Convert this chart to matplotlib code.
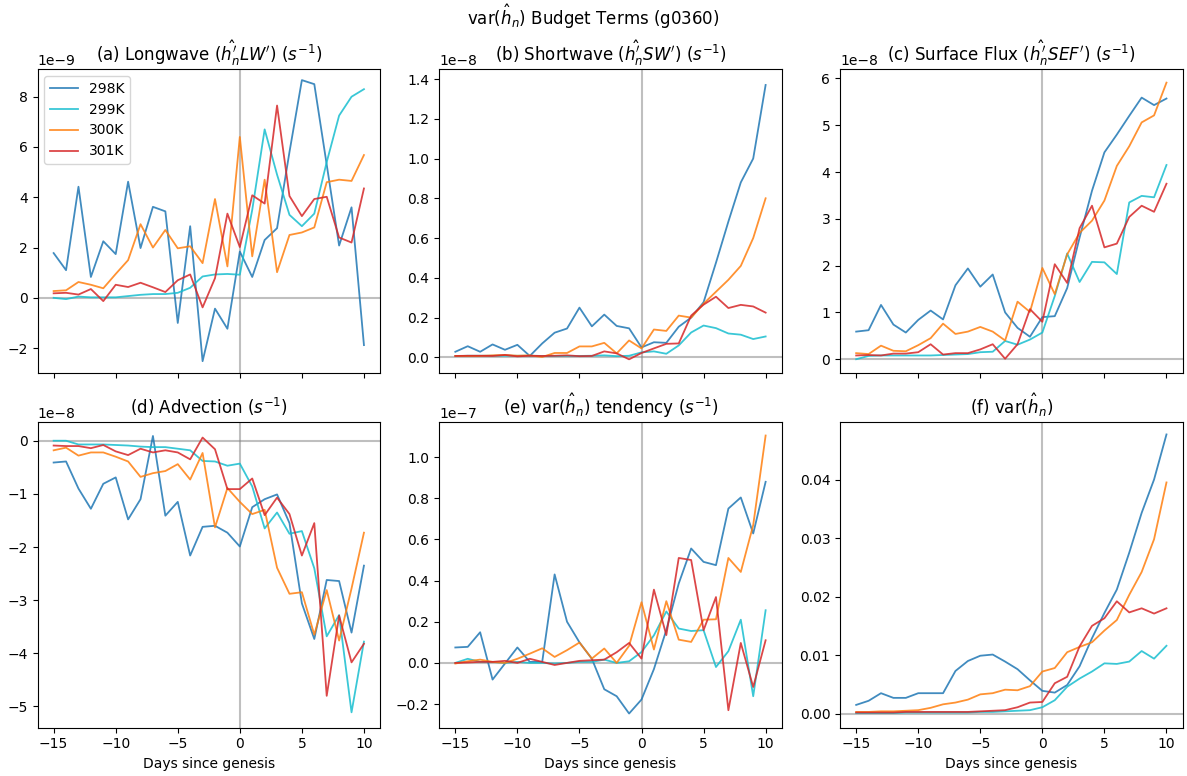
import numpy as np
import matplotlib
matplotlib.use("Agg")
import matplotlib.pyplot as plt

days = list(range(-15, 11))
labels = ["298K", "299K", "300K", "301K"]
colors = ["tab:blue", "tab:cyan", "tab:orange", "tab:red"]

# (a) Longwave, units 1e-9
lw_298 = [1.78, 1.1, 4.42, 0.83, 2.25, 1.74, 4.62, 1.98, 3.62, 3.44, -1.0, 2.85, -2.52, -0.43, -1.23, 1.84, 0.83, 2.3, 2.77, 5.8, 8.66, 8.5, 5.3, 2.08, 3.6, -1.88]
lw_299 = [0.0, -0.05, 0.05, 0.02, 0.02, 0.02, 0.07, 0.12, 0.15, 0.15, 0.2, 0.4, 0.85, 0.93, 0.95, 0.92, 3.5, 6.7, 4.9, 3.3, 2.85, 3.35, 5.4, 7.25, 8.0, 8.3]
lw_300 = [0.27, 0.3, 0.63, 0.52, 0.38, 0.95, 1.5, 2.93, 2.0, 2.7, 1.97, 2.05, 1.38, 3.93, 1.25, 6.4, 1.65, 4.7, 1.02, 2.5, 2.6, 2.8, 4.6, 4.7, 4.65, 5.68]
lw_301 = [0.18, 0.2, 0.13, 0.35, -0.13, 0.52, 0.43, 0.6, 0.42, 0.23, 0.7, 0.93, -0.38, 0.78, 3.35, 2.02, 4.08, 3.75, 7.65, 4.05, 3.25, 3.93, 4.02, 2.4, 2.2, 4.35]

# (b) Shortwave, units 1e-8
sw_298 = [0.028, 0.056, 0.028, 0.065, 0.038, 0.063, 0.007, 0.07, 0.124, 0.145, 0.25, 0.156, 0.215, 0.158, 0.146, 0.05, 0.076, 0.073, 0.154, 0.2, 0.277, 0.476, 0.683, 0.88, 1.0, 1.37]
sw_299 = [0.006, 0.008, 0.008, 0.008, 0.008, 0.008, 0.008, 0.007, 0.007, 0.007, 0.007, 0.008, 0.01, 0.006, 0.008, 0.025, 0.03, 0.018, 0.06, 0.125, 0.16, 0.147, 0.12, 0.114, 0.092, 0.105]
sw_300 = [0.007, 0.007, 0.007, 0.01, 0.012, 0.008, 0.01, 0.002, 0.022, 0.022, 0.055, 0.055, 0.073, 0.02, 0.085, 0.045, 0.14, 0.133, 0.21, 0.2, 0.27, 0.33, 0.39, 0.46, 0.6, 0.8]
sw_301 = [0.007, 0.008, 0.008, 0.007, 0.012, 0.005, 0.008, 0.007, 0.008, 0.01, 0.006, 0.007, 0.03, 0.02, -0.01, 0.022, 0.045, 0.068, 0.07, 0.21, 0.265, 0.305, 0.248, 0.264, 0.256, 0.225]

# (c) Surface flux, units 1e-8
sef_298 = [0.59, 0.62, 1.16, 0.74, 0.57, 0.84, 1.04, 0.85, 1.58, 1.94, 1.55, 1.81, 1.0, 0.67, 0.48, 0.9, 0.92, 1.52, 2.6, 3.6, 4.42, 4.8, 5.2, 5.59, 5.43, 5.57]
sef_299 = [0.0, 0.07, 0.08, 0.08, 0.08, 0.08, 0.08, 0.09, 0.1, 0.11, 0.15, 0.16, 0.39, 0.31, 0.42, 0.57, 1.35, 2.26, 1.65, 2.08, 2.07, 1.82, 3.35, 3.49, 3.46, 4.15]
sef_300 = [0.13, 0.11, 0.29, 0.18, 0.17, 0.3, 0.45, 0.76, 0.54, 0.59, 0.69, 0.59, 0.4, 1.23, 1.01, 1.95, 1.39, 2.24, 2.7, 2.96, 3.39, 4.13, 4.55, 5.06, 5.21, 5.91]
sef_301 = [0.08, 0.09, 0.08, 0.12, 0.12, 0.15, 0.32, 0.1, 0.13, 0.13, 0.21, 0.32, 0.01, 0.32, 1.07, 0.8, 2.03, 1.63, 2.8, 3.28, 2.39, 2.47, 3.04, 3.28, 3.15, 3.75]

# (d) Advection, units 1e-8
adv_298 = [-0.41, -0.39, -0.9, -1.28, -0.81, -0.69, -1.48, -1.1, 0.09, -1.41, -1.15, -2.16, -1.62, -1.6, -1.73, -1.99, -1.25, -1.1, -1.01, -1.55, -3.06, -3.73, -2.62, -2.64, -3.61, -2.35]
adv_299 = [0.0, 0.0, -0.07, -0.07, -0.07, -0.08, -0.09, -0.11, -0.12, -0.12, -0.15, -0.18, -0.38, -0.39, -0.47, -0.43, -0.86, -1.65, -1.35, -1.75, -1.7, -2.4, -3.68, -3.28, -5.11, -3.78]
adv_300 = [-0.18, -0.13, -0.28, -0.22, -0.22, -0.3, -0.39, -0.68, -0.61, -0.57, -0.44, -0.73, -0.23, -1.63, -0.89, -1.15, -1.38, -1.3, -2.39, -2.88, -2.85, -3.65, -2.81, -3.76, -2.78, -1.73]
adv_301 = [-0.09, -0.1, -0.1, -0.14, -0.08, -0.2, -0.27, -0.15, -0.22, -0.18, -0.22, -0.35, 0.06, -0.16, -0.91, -0.91, -0.71, -1.4, -1.07, -1.38, -2.16, -1.55, -4.8, -3.29, -4.17, -3.82]

# (e) var tendency, units 1e-7
tend_298 = [0.075, 0.078, 0.149, -0.081, -0.003, 0.075, 0.005, 0.005, 0.43, 0.2, 0.1, 0.02, -0.128, -0.162, -0.246, -0.178, -0.03, 0.16, 0.386, 0.556, 0.491, 0.475, 0.75, 0.804, 0.629, 0.88]
tend_299 = [0.0, 0.02, 0.005, 0.005, 0.0, 0.005, 0.0, 0.0, -0.003, 0.0, 0.005, 0.005, 0.016, 0.0, 0.008, 0.053, 0.134, 0.25, 0.167, 0.155, 0.159, -0.02, 0.057, 0.21, -0.162, 0.256]
tend_300 = [-0.003, 0.008, 0.016, 0.005, 0.0, 0.02, 0.045, 0.071, 0.029, 0.062, 0.099, 0.021, 0.07, 0.0, 0.083, 0.295, 0.065, 0.3, 0.113, 0.102, 0.21, 0.212, 0.51, 0.442, 0.67, 1.105]
tend_301 = [0.0, 0.002, 0.005, 0.005, 0.01, 0.0, 0.02, 0.005, -0.01, 0.0, 0.01, 0.013, 0.016, 0.052, 0.097, 0.021, 0.356, 0.135, 0.51, 0.5, 0.159, 0.32, -0.23, 0.097, -0.117, 0.11]

# (f) var(h_n)
var_298 = [0.0015, 0.0022, 0.0035, 0.0027, 0.0027, 0.0035, 0.0035, 0.0035, 0.0073, 0.009, 0.0099, 0.0101, 0.0089, 0.0076, 0.0057, 0.0039, 0.0036, 0.0049, 0.0081, 0.0129, 0.0172, 0.0212, 0.0275, 0.0343, 0.04, 0.0477]
var_299 = [0.0001, 0.0001, 0.0001, 0.0001, 0.0002, 0.0002, 0.0002, 0.0002, 0.0002, 0.0002, 0.0003, 0.0003, 0.0004, 0.0005, 0.0006, 0.0011, 0.0023, 0.0046, 0.006, 0.0072, 0.0086, 0.0085, 0.0089, 0.0107, 0.0094, 0.0116]
var_300 = [0.0003, 0.0003, 0.0004, 0.0004, 0.0005, 0.0006, 0.001, 0.0016, 0.0019, 0.0024, 0.0033, 0.0035, 0.0041, 0.004, 0.0047, 0.0072, 0.0078, 0.0105, 0.0114, 0.0122, 0.0142, 0.016, 0.0203, 0.0242, 0.0298, 0.0395]
var_301 = [0.0002, 0.0002, 0.0002, 0.0002, 0.0003, 0.0003, 0.0003, 0.0003, 0.0003, 0.0003, 0.0004, 0.0005, 0.0006, 0.0011, 0.0019, 0.002, 0.0052, 0.0063, 0.0115, 0.015, 0.0163, 0.0192, 0.0173, 0.018, 0.0171, 0.018]

panels = [
    (r"(a) Longwave ($\hat{h^{\prime}_n}LW^{\prime}$) ($s^{-1}$)", [lw_298, lw_299, lw_300, lw_301], 1e-9),
    (r"(b) Shortwave ($\hat{h^{\prime}_n}SW^{\prime}$) ($s^{-1}$)", [sw_298, sw_299, sw_300, sw_301], 1e-8),
    (r"(c) Surface Flux ($\hat{h^{\prime}_n}SEF^{\prime}$) ($s^{-1}$)", [sef_298, sef_299, sef_300, sef_301], 1e-8),
    (r"(d) Advection ($s^{-1}$)", [adv_298, adv_299, adv_300, adv_301], 1e-8),
    (r"(e) var($\hat{h}_n$) tendency ($s^{-1}$)", [tend_298, tend_299, tend_300, tend_301], 1e-7),
    (r"(f) var($\hat{h}_n$)", [var_298, var_299, var_300, var_301], 1.0),
]

fig = plt.figure(figsize=(11.87, 7.76), dpi=100)
w = 0.2886
lefts = [0.0316, 0.370, 0.7077]
rows = [(0.519, 0.911), (0.0622, 0.456)]
axes = []
for r, (b, t) in enumerate(rows):
    for c in range(3):
        ax = fig.add_axes([lefts[c], b, w, t - b], sharex=axes[0] if axes else None)
        axes.append(ax)

for i, (ax, (title, series, scale)) in enumerate(zip(axes, panels)):
    ax.axhline(0, color="0.5", alpha=0.5, lw=1.5, zorder=1)
    ax.axvline(0, color="0.5", alpha=0.5, lw=1.5, zorder=1)
    for s, col, lab in zip(series, colors, labels):
        ax.plot(days, np.array(s) * scale, color=col, alpha=0.85, lw=1.3, label=lab, zorder=2)
    ax.set_title(title, fontsize=12)
    ax.set_xticks([-15, -10, -5, 0, 5, 10])
    if i < 3:
        ax.tick_params(labelbottom=False)
    else:
        ax.set_xlabel("Days since genesis")
    ax.tick_params(labelsize=10)

axes[0].set_ylim(-3.0e-9, 9.1e-9)
axes[1].set_ylim(-0.08e-8, 1.45e-8)
axes[2].set_ylim(-0.3e-8, 6.2e-8)
axes[3].set_ylim(-5.4e-8, 0.35e-8)
axes[4].set_ylim(-0.315e-7, 1.17e-7)
axes[5].set_ylim(-0.0024, 0.0498)
axes[5].set_yticks([0.0, 0.01, 0.02, 0.03, 0.04])
axes[1].set_yticks(np.arange(0, 1.41, 0.2) * 1e-8)
axes[4].set_yticks(np.arange(-0.2, 1.01, 0.2) * 1e-7)
axes[0].set_xlim(-16.3, 11.3)

axes[0].legend(loc="upper left", fontsize=10)
fig.suptitle(r"var($\hat{h}_n$) Budget Terms (g0360)", fontsize=12, y=0.997)

fig.savefig("out.png", dpi=100)
